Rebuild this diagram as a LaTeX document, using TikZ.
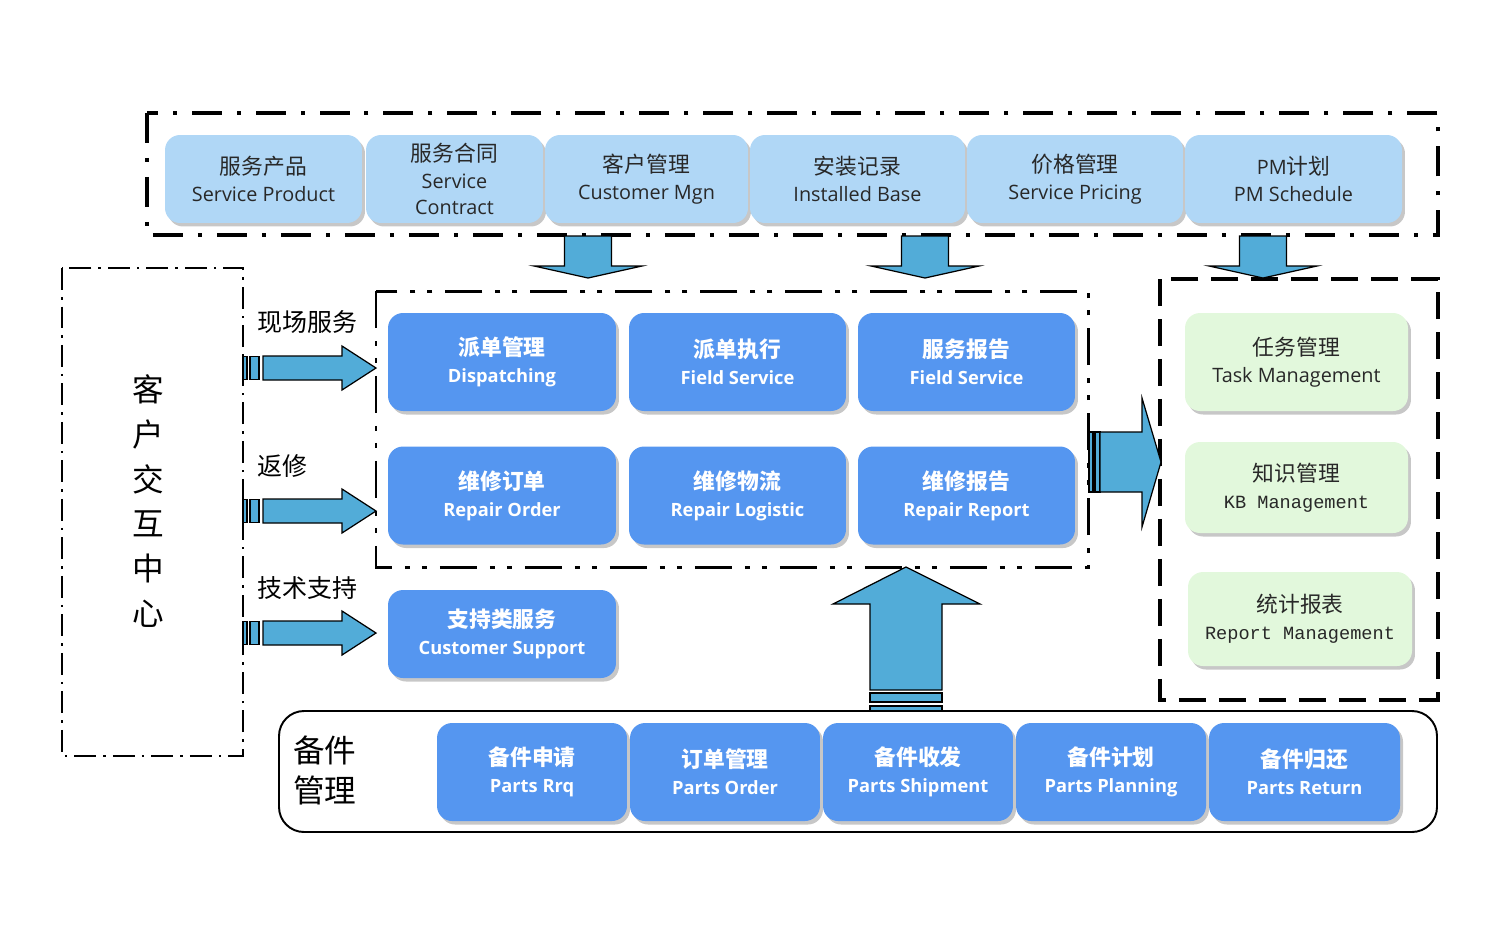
\documentclass[tikz,border=0pt]{standalone}
\usepackage{fontspec}
\setmainfont{Open Sans}[Scale=0.84]
\newfontfamily\lat{Open Sans}[Scale=0.91]
\newfontfamily\cjk{Noto Sans CJK SC}
\newfontfamily\mono{Liberation Mono}
\usepackage{tikz}
\usepackage{xcolor}
\usetikzlibrary{positioning, shadows}

\definecolor{topblue}{RGB}{176,215,246}
\definecolor{boxblue}{RGB}{85,150,240}
\definecolor{softgreen}{RGB}{226,248,220}
\definecolor{arrowblue}{RGB}{82,172,216}
\definecolor{ink}{RGB}{40,40,40}

\tikzset{
  box/.style={rounded corners=0.3cm, align=center, inner sep=0pt, minimum height=1.96cm,
    drop shadow={shadow xshift=0.06cm, shadow yshift=-0.07cm, fill=black!22, opacity=1},
    font=\lat\fontsize{12.4}{15.3}\selectfont},
  topbox/.style={box, fill=topblue, text=ink, minimum height=1.76cm},
  bluebox/.style={box, fill=boxblue, text=white, font=\fontsize{12.4}{15.3}\selectfont\bfseries},
  greenbox/.style={box, fill=softgreen, text=ink},
  fatarrow/.style={fill=arrowblue, draw=black, line width=0.7pt, line join=miter},
  lbl/.style={font=\cjk\fontsize{14.2}{17}\selectfont, text=black, inner sep=0pt},
  topframe/.style={line width=1.9pt, dash pattern=on 0.6cm off 0.3cm on 0.08cm off 0.3cm},
  midframe/.style={line width=1.7pt, dash pattern=on 0.74cm off 0.26cm on 0.1cm off 0.24cm on 0.1cm off 0.26cm},
  leftframe/.style={line width=1.1pt, dash pattern=on 0.44cm off 0.14cm on 0.05cm off 0.14cm},
  rightframe/.style={line width=2pt, dash pattern=on 0.54cm off 0.26cm},
  partsframe/.style={line width=1.1pt, rounded corners=0.5cm}
}

\begin{document}
\begin{tikzpicture}[x=0.02cm, y=-0.02cm]
    \useasboundingbox (0,0) rectangle (1500,944);

    \draw[topframe] (147,113) rectangle (1438,235);
    \draw[midframe] (376,291) rectangle (1088,567);
    \draw[leftframe] (62,268) rectangle (243,756);
    \draw[rightframe] (1160,279) rectangle (1438,700);
    \draw[partsframe] (279,711) rectangle (1437,832);

    \node[topbox, minimum width=3.94cm] (prod) at (263.5,179) {{\cjk 服务产品}\\Service Product};
    \node[topbox, minimum width=3.54cm] (contract) at (454.5,179) {{\cjk 服务合同}\\Service\\Contract};
    \node[topbox, minimum width=4.06cm] (cust) at (646.5,179) {{\cjk 客户管理}\\Customer Mgn};
    \node[topbox, minimum width=4.30cm] (base) at (857.5,179) {{\cjk 安装记录}\\Installed Base};
    \node[topbox, minimum width=4.32cm] (pricing) at (1075,179) {{\cjk 价格管理}\\Service Pricing};
    \node[topbox, minimum width=4.34cm] (pm) at (1293.5,179) {PM{\cjk 计划}\\PM Schedule};

    \node[bluebox, minimum width=4.56cm] (dispatch) at (502,362) {{\cjk 派单管理}\\Dispatching};
    \node[bluebox, minimum width=4.34cm] (field) at (737.5,362) {{\cjk 派单执行}\\Field Service};
    \node[bluebox, minimum width=4.34cm] (fieldrep) at (966.5,362) {{\cjk 服务报告}\\Field Service};
    \node[bluebox, minimum width=4.56cm] (rorder) at (502,495.5) {{\cjk 维修订单}\\Repair Order};
    \node[bluebox, minimum width=4.34cm] (rlogistic) at (737.5,495.5) {{\cjk 维修物流}\\Repair Logistic};
    \node[bluebox, minimum width=4.34cm] (rreport) at (966.5,495.5) {{\cjk 维修报告}\\Repair Report};
    \node[bluebox, minimum width=4.56cm, minimum height=1.76cm] (support) at (502,634) {{\cjk 支持类服务}\\Customer Support};

    \node[greenbox, minimum width=4.46cm] (task) at (1296.5,362) {{\cjk 任务管理}\\Task Management};
    \node[greenbox, minimum width=4.46cm, minimum height=1.82cm] (kb) at (1296.5,487.5) {{\cjk 知识管理}\\{\mono\fontsize{10.6}{15.3}\selectfont KB Management}};
    \node[greenbox, minimum width=4.48cm, minimum height=1.88cm] (report) at (1300,619) {{\cjk 统计报表}\\{\mono\fontsize{10.6}{15.3}\selectfont Report Management}};

    \node[bluebox, minimum width=3.80cm] (prq) at (532,772) {{\cjk 备件申请}\\Parts Rrq};
    \node[bluebox, minimum width=3.80cm] (porder) at (725,772) {{\cjk 订单管理}\\Parts Order};
    \node[bluebox, minimum width=3.80cm] (pship) at (918,772) {{\cjk 备件收发}\\Parts Shipment};
    \node[bluebox, minimum width=3.80cm] (pplan) at (1111,772) {{\cjk 备件计划}\\Parts Planning};
    \node[bluebox, minimum width=3.82cm] (preturn) at (1304.5,772) {{\cjk 备件归还}\\Parts Return};

    \node[align=center, inner sep=0pt, font=\cjk\fontsize{18}{25.5}\selectfont] (center) at (148,501) {客\\户\\交\\互\\中\\心};
    \node[align=left, anchor=west, inner sep=0pt, font=\cjk\fontsize{18}{22.7}\selectfont] (spares) at (293,770) {备件\\管理};
    \node[lbl, anchor=west] (onsite) at (257,322) {现场服务};
    \node[lbl, anchor=west] (rma) at (257,466) {返修};
    \node[lbl, anchor=west] (tech) at (257,588) {技术支持};

    \foreach \cx in {588, 925, 1263}
        \draw[fatarrow] (\cx-23.5,236) -- (\cx+23.5,236) -- (\cx+23.5,266) -- (\cx+54,266)
            -- (\cx,278) -- (\cx-54,266) -- (\cx-23.5,266) -- cycle;

    \foreach \cy in {368, 511, 633} {
        \draw[fatarrow] (243,\cy-11.5) rectangle (247,\cy+11.5);
        \draw[fatarrow] (250,\cy-11.5) rectangle (259,\cy+11.5);
        \draw[fatarrow] (263,\cy-12) -- (342,\cy-12) -- (342,\cy-22) -- (376,\cy)
            -- (342,\cy+22) -- (342,\cy+12) -- (263,\cy+12) -- cycle;
    }

    \draw[fatarrow] (1089,432) rectangle (1093,492);
    \draw[fatarrow] (1095,432) rectangle (1100,492);
    \draw[fatarrow] (1100,432) -- (1142,432) -- (1142,398) -- (1161,462)
        -- (1142,527) -- (1142,492) -- (1100,492) -- cycle;

    \draw[fatarrow] (870,690) -- (870,604) -- (833,604) -- (906,567)
        -- (980,604) -- (942,604) -- (942,690) -- cycle;
    \draw[fatarrow] (870,693) rectangle (942,702);
    \draw[fatarrow] (870,706) rectangle (942,711);
\end{tikzpicture}
\end{document}
